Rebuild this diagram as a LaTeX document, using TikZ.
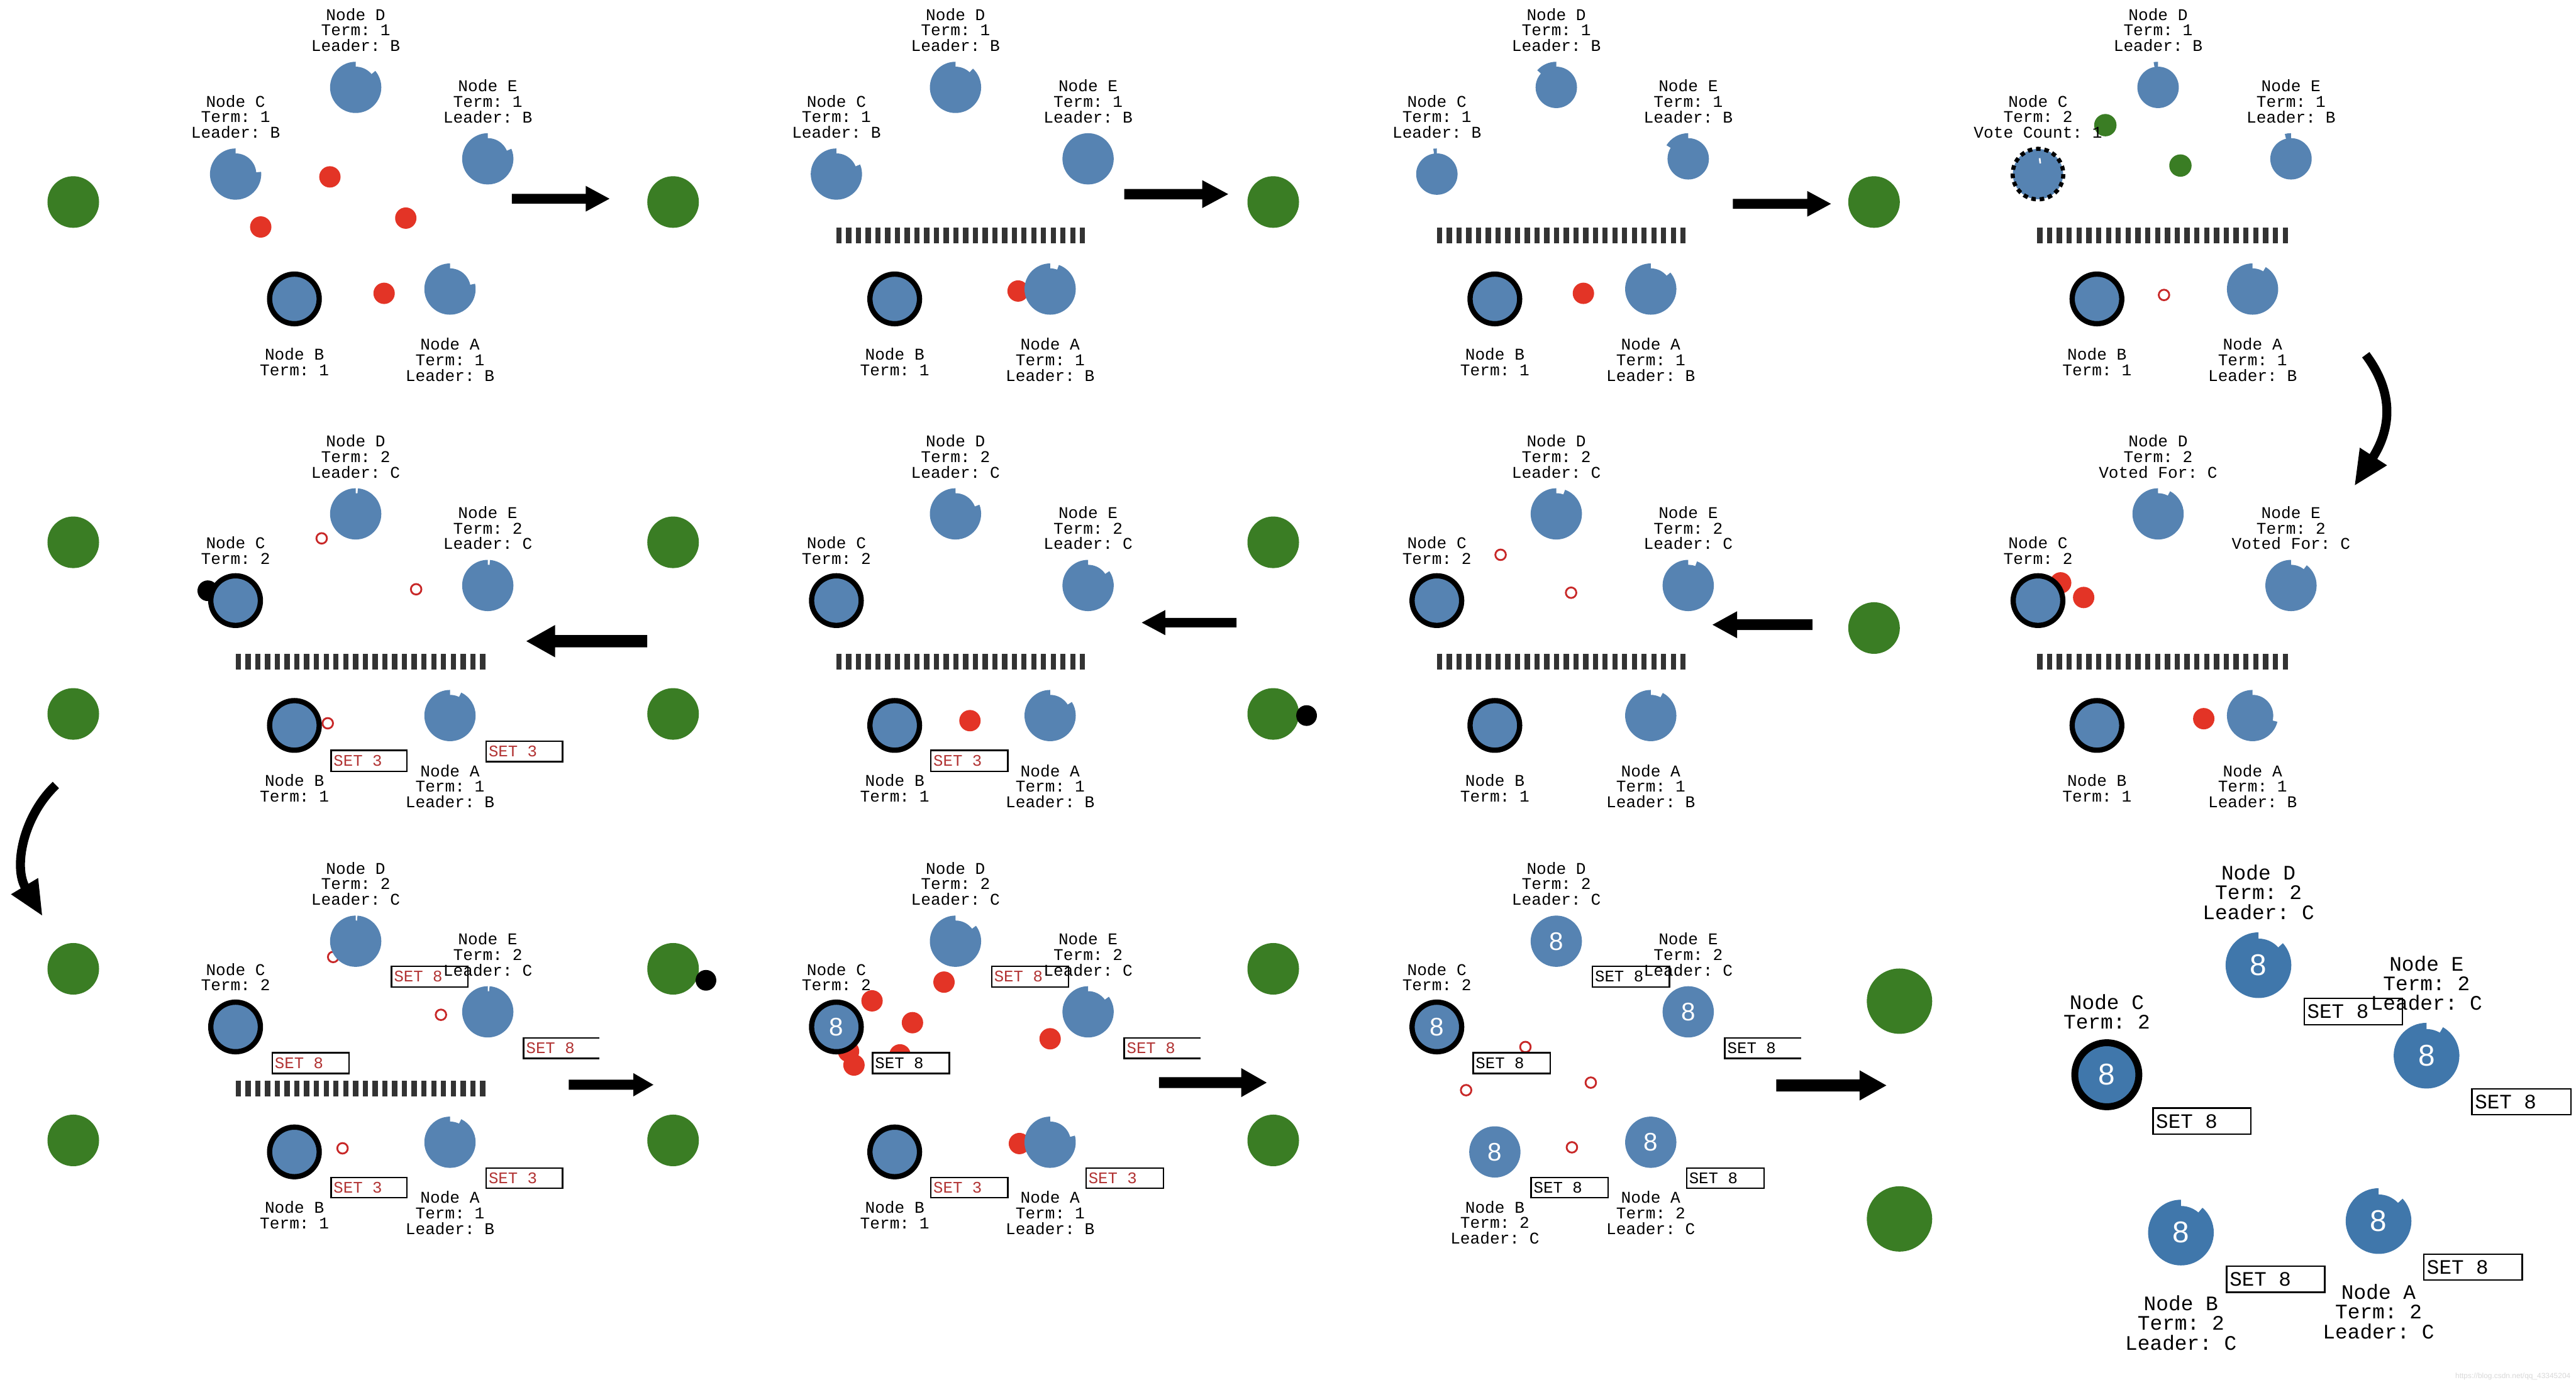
\documentclass[tikz,border=0pt]{standalone}
\usepackage{fontspec}
\setmainfont{Liberation Serif}
\setsansfont{Liberation Sans}
\setmonofont{Liberation Mono}
\newfontfamily\digitfont{Liberation Sans}
\usetikzlibrary{arrows.meta}
\definecolor{nb}{RGB}{86,131,178}
\definecolor{nbd}{RGB}{64,119,171}
\definecolor{gr}{RGB}{58,125,36}
\definecolor{rd}{RGB}{227,52,38}
\definecolor{rdo}{RGB}{200,40,40}
\definecolor{rdt}{RGB}{178,52,52}
\definecolor{barc}{RGB}{51,51,51}
\tikzset{
  lbl/.style={font=\fontsize{5.7}{5.4}\selectfont\ttfamily, align=center, inner sep=0pt},
  lblL/.style={font=\fontsize{7.15}{6.8}\selectfont\ttfamily, align=center, inner sep=0pt},
  settxt/.style={font=\fontsize{5.6}{6}\selectfont\ttfamily, inner sep=0pt, anchor=west},
  setL/.style={font=\fontsize{7.1}{8}\selectfont\ttfamily, inner sep=0pt, anchor=west},
  digit/.style={font=\fontsize{8.8}{9}\selectfont\digitfont, text=white, inner sep=0pt},
  digitL/.style={font=\fontsize{10.4}{11}\selectfont\digitfont, text=white, inner sep=0pt},
  boxline/.style={line width=0.018cm},
  bigcurve/.style={line width=0.11cm},
}
% timer node: name x y extent-of-outer-sector
\newcommand\tmr[4]{%
  \coordinate (#1) at (#2,#3);
  \fill[nb] (#1) circle[radius=12.6];
  \fill[nb] (#1) -- ++(0,-15.6) arc[start angle=-90, delta angle=-#4, radius=15.6] -- cycle;}
\newcommand\tmrL[4]{%
  \coordinate (#1) at (#2,#3);
  \fill[nbd] (#1) circle[radius=16.2];
  \fill[nbd] (#1) -- ++(0,-20) arc[start angle=-90, delta angle=-#4, radius=20] -- cycle;}
\newcommand\ldr[3]{%
  \coordinate (#1) at (#2,#3);
  \fill[nb] (#1) circle[radius=15.2];
  \draw[line width=0.064cm] (#1) circle[radius=15.1];}
\newcommand\ldrL[3]{%
  \coordinate (#1) at (#2,#3);
  \fill[nbd] (#1) circle[radius=19.5];
  \draw[line width=0.084cm] (#1) circle[radius=19.5];}
\newcommand\grn[2]{\fill[gr] (#1,#2) circle[radius=15.7];}
\newcommand\rdot[2]{\fill[rd] (#1,#2) circle[radius=6.5];}
\newcommand\rring[2]{\draw[rdo, line width=0.022cm] (#1,#2) circle[radius=3.2];}
\newcommand\bdot[2]{\fill[black] (#1,#2) circle[radius=6.3];}
\newcommand\nlab[4]{\node[lbl] (#1) at (#2,#3) {#4};}
\newcommand\nlabL[4]{\node[lblL] (#1) at (#2,#3) {#4};}
\newcommand\logbox[7]{%
  \draw[boxline, fill=white] (#2,#3) rectangle (#4,#5);
  \node[settxt, text=#6] (#1) at ({#2+1.2},{(#3+#5)/2}) {#7};}
\newcommand\logboxo[7]{%
  \fill[white] (#2,#3) rectangle (#4,#5);
  \draw[boxline] (#4,#3) -- (#2,#3) -- (#2,#5) -- (#4,#5);
  \node[settxt, text=#6] (#1) at ({#2+1.2},{(#3+#5)/2}) {#7};}
\newcommand\logboxL[5]{%
  \draw[boxline, fill=white] (#2,#3) rectangle (#4,#5);
  \node[setL] (#1) at ({#2+1.5},{(#3+#5)/2}) {SET 8};}
% barrier: x1 x2 ytop
\newcommand\barrier[3]{%
  \foreach \i in {0,...,25} {\fill[barc] ({#1+\i*(#2-#1-3.2)/25},#3) rectangle ++(3.2,9.5);}}
% block arrow: xtail xbase xtip y shafthalf headhalf
\newcommand\harrow[6]{%
  \fill[black] (#1,{#4-#5}) -- (#2,{#4-#5}) -- (#2,{#4-#6}) -- (#3,#4) -- (#2,{#4+#6}) -- (#2,{#4+#5}) -- (#1,{#4+#5}) -- cycle;}
\begin{document}
\begin{tikzpicture}[x=0.02cm,y=-0.02cm]
\useasboundingbox (0,0) rectangle (1568,843);
\fill[white] (0,0) rectangle (1568,843);

% ---------- green client circles ----------
\grn{44.6}{123}\grn{409.7}{123}\grn{775}{123}\grn{1140.7}{123}
\grn{44.6}{330.2}\grn{44.6}{434.7}\grn{409.7}{330.2}\grn{409.7}{434.7}
\grn{775}{330.2}\grn{775}{434.7}\grn{1140.7}{382.4}
\grn{44.6}{589.9}\grn{44.6}{694.4}\grn{409.7}{589.9}\grn{409.7}{694.4}
\grn{775}{589.9}\grn{775}{694.4}
\fill[gr] (1156.2,609.6) circle[radius=19.9];
\fill[gr] (1156.2,742.2) circle[radius=19.9];

% ---------- messages (behind nodes) ----------
% row 1
\rdot{200.8}{107.7}\rdot{158.7}{138.2}\rdot{247}{132.8}\rdot{233.8}{178.6}
\rdot{619.7}{177.2}
\rdot{963.8}{178.6}
\rring{1317.2}{179.6}
\fill[gr] (1281.5,76.2) circle[radius=6.8];
\fill[gr] (1327.2,100.8) circle[radius=6.8];
% row 2
\rring{195.8}{327.8}\rring{253.3}{358.8}\rring{199.5}{440.4}
\bdot{126.5}{359.7}
\rdot{590.4}{438.8}
\rring{913.4}{337.8}\rring{956.3}{360.9}
\bdot{795.3}{435.7}
\rdot{1254.3}{354.9}\rdot{1268.3}{363.8}\rdot{1341.4}{437.6}
% row 3
\rring{202.8}{582.7}\rring{268.4}{617.9}\rring{208.5}{699.2}
\bdot{429.7}{596.9}
\rdot{530.8}{609.4}\rdot{555.4}{622.7}\rdot{574.6}{598}\rdot{639.2}{632.5}
\rdot{519.8}{648.5}\rdot{516.5}{640.2}\rdot{547.8}{642.3}\rdot{620.5}{696.3}
\rring{928.5}{637.5}\rring{892.4}{663.8}\rring{968.3}{659.2}\rring{956.8}{698.6}

% ---------- barriers ----------
\barrier{509.1}{660.5}{138.6}\barrier{874.6}{1026.1}{138.6}\barrier{1240}{1392.6}{138.6}
\barrier{143.4}{295.4}{398.3}\barrier{509.1}{660.5}{398.3}\barrier{874.6}{1026.1}{398.3}\barrier{1240}{1392.6}{398.3}
\barrier{143.4}{295.4}{658.1}

% ---------- server nodes ----------
% row 1
\tmr{n11D}{216.5}{53.2}{310}\tmr{n11C}{143.4}{106}{275}\tmr{n11E}{296.9}{96.7}{293}
\ldr{n11B}{179.2}{182}\tmr{n11A}{273.9}{176}{282}
\tmr{n12D}{581.6}{53.2}{317}\tmr{n12C}{509.1}{106}{292}\tmr{n12E}{662.3}{96.7}{360}
\ldr{n12B}{544.6}{182}\tmr{n12A}{639.2}{176}{340}
\tmr{n13D}{947.3}{53.2}{48}\tmr{n13C}{874.6}{106}{8}\tmr{n13E}{1027.6}{96.7}{58}
\ldr{n13B}{909.9}{182}\tmr{n13A}{1004.8}{176}{310}
\tmr{n14D}{1313.6}{53.2}{10}\tmr{n14E}{1394.5}{96.7}{14}
\ldr{n14B}{1276.4}{182}\tmr{n14A}{1371.1}{176}{329}
\coordinate (n14C) at (1240.5,106);
\fill[nb] (n14C) circle[radius=15.3];
\draw[line width=0.05cm, dash pattern=on 0.055cm off 0.047cm] (n14C) circle[radius=15.4];
\draw[white, line width=0.02cm] (1241.5,96.3) -- (1241.9,99.5);
% row 2
\tmr{n21D}{216.5}{312.9}{355}\ldr{n21C}{143.4}{365.7}\tmr{n21E}{296.9}{356.5}{355}
\ldr{n21B}{179.2}{441.7}\tmr{n21A}{273.9}{435.7}{334}
\tmr{n22D}{581.6}{312.9}{291}\ldr{n22C}{509.1}{365.7}\tmr{n22E}{662.3}{356.5}{304}
\ldr{n22B}{544.6}{441.7}\tmr{n22A}{639.2}{435.7}{302}
\tmr{n23D}{947.3}{312.9}{340}\ldr{n23C}{874.6}{365.7}\tmr{n23E}{1027.6}{356.5}{340}
\ldr{n23B}{909.9}{441.7}\tmr{n23A}{1004.8}{435.7}{332}
\tmr{n24D}{1313.6}{312.9}{332}\ldr{n24C}{1240.5}{365.7}\tmr{n24E}{1394.5}{356.5}{322}
\ldr{n24B}{1276.4}{441.7}\tmr{n24A}{1371.1}{435.7}{256}
% row 3
\tmr{n31D}{216.5}{573.1}{356}\ldr{n31C}{143.4}{625.3}\tmr{n31E}{296.9}{616.1}{356}
\ldr{n31B}{179.2}{701.4}\tmr{n31A}{273.9}{695.5}{334}
\tmr{n32D}{581.6}{573.1}{307}\ldr{n32C}{509.1}{625.3}\tmr{n32E}{662.3}{616.1}{306}
\ldr{n32B}{544.6}{701.4}\tmr{n32A}{639.2}{695.5}{285}
\node[digit] (d32C) at (n32C) {8};
\tmr{n33D}{947.3}{573.1}{360}\ldr{n33C}{874.6}{625.3}\tmr{n33E}{1027.6}{616.1}{360}
\tmr{n33B}{909.9}{701.4}{360}\tmr{n33A}{1004.8}{695.5}{360}
\node[digit] (d33D) at (n33D) {8};
\node[digit] (d33C) at (n33C) {8};
\node[digit] (d33E) at (n33E) {8};
\node[digit] (d33B) at (n33B) {8};
\node[digit] (d33A) at (n33A) {8};
\tmrL{n34D}{1374.7}{587.7}{312}\ldrL{n34C}{1282.4}{654.4}\tmrL{n34E}{1477}{642.8}{330}
\tmrL{n34B}{1327.5}{750.5}{319}\tmrL{n34A}{1447.8}{743.5}{313}
\node[digitL] (d34D) at (n34D) {8};
\node[digitL] (d34C) at (n34C) {8};
\node[digitL] (d34E) at (n34E) {8};
\node[digitL] (d34B) at (n34B) {8};
\node[digitL] (d34A) at (n34A) {8};

% ---------- log boxes ----------
\logbox{s21b}{201.5}{456.9}{247.8}{469.6}{rdt}{SET 3}
\logbox{s21a}{295.9}{451.2}{342.4}{463.8}{rdt}{SET 3}
\logbox{s22b}{566.6}{456.9}{613.4}{469.6}{rdt}{SET 3}
\logbox{s31d}{238.3}{588.4}{284.9}{600.9}{rdt}{SET 8}
\logbox{s31c}{165.7}{641}{212.5}{653.7}{rdt}{SET 8}
\logboxo{s31e}{318.7}{631.9}{365}{644.5}{rdt}{SET 8}
\logbox{s31b}{201.5}{717}{247.8}{729.3}{rdt}{SET 3}
\logbox{s31a}{295.9}{711.2}{342.4}{723.6}{rdt}{SET 3}
\logbox{s32c}{531.1}{641}{577.9}{653.7}{black}{SET 8}
\logbox{s32d}{603.6}{588.4}{650.4}{600.9}{rdt}{SET 8}
\logboxo{s32e}{684.3}{631.9}{730.6}{644.5}{rdt}{SET 8}
\logbox{s32b}{566.6}{717}{613.4}{729.3}{rdt}{SET 3}
\logbox{s32a}{661}{711.2}{708.1}{723.6}{rdt}{SET 3}
\logbox{s33c}{896.7}{641}{943.5}{653.7}{black}{SET 8}
\logbox{s33d}{969.3}{588.4}{1016.1}{600.9}{black}{SET 8}
\logboxo{s33e}{1049.9}{631.9}{1096.2}{644.5}{black}{SET 8}
\logbox{s33b}{932}{717}{978.8}{729.3}{black}{SET 8}
\logbox{s33a}{1026.6}{711.2}{1073.7}{723.6}{black}{SET 8}
\logboxL{s34d}{1402.5}{607.8}{1462.3}{623.9}
\logboxL{s34c}{1310.5}{674.7}{1370}{690.6}
\logboxL{s34e}{1504.6}{663.1}{1564.8}{678.8}
\logboxL{s34b}{1355.3}{770.9}{1415}{786.8}
\logboxL{s34a}{1475.4}{763.6}{1535.3}{779.5}

% ---------- labels ----------
% row 1
\nlab{l11D}{216.5}{18.2}{Node D\\Term: 1\\Leader: B}
\nlab{l11C}{143.4}{71}{Node C\\Term: 1\\Leader: B}
\nlab{l11E}{296.9}{61.7}{Node E\\Term: 1\\Leader: B}
\nlab{l11B}{179.2}{220.3}{Node B\\Term: 1}
\nlab{l11A}{273.9}{219}{Node A\\Term: 1\\Leader: B}
\nlab{l12D}{581.6}{18.2}{Node D\\Term: 1\\Leader: B}
\nlab{l12C}{509.1}{71}{Node C\\Term: 1\\Leader: B}
\nlab{l12E}{662.3}{61.7}{Node E\\Term: 1\\Leader: B}
\nlab{l12B}{544.6}{220.3}{Node B\\Term: 1}
\nlab{l12A}{639.2}{219}{Node A\\Term: 1\\Leader: B}
\nlab{l13D}{947.3}{18.2}{Node D\\Term: 1\\Leader: B}
\nlab{l13C}{874.6}{71}{Node C\\Term: 1\\Leader: B}
\nlab{l13E}{1027.6}{61.7}{Node E\\Term: 1\\Leader: B}
\nlab{l13B}{909.9}{220.3}{Node B\\Term: 1}
\nlab{l13A}{1004.8}{219}{Node A\\Term: 1\\Leader: B}
\nlab{l14D}{1313.6}{18.2}{Node D\\Term: 1\\Leader: B}
\nlab{l14C}{1240.5}{71}{Node C\\Term: 2\\Vote Count: 1}
\nlab{l14E}{1394.5}{61.7}{Node E\\Term: 1\\Leader: B}
\nlab{l14B}{1276.4}{220.3}{Node B\\Term: 1}
\nlab{l14A}{1371.1}{219}{Node A\\Term: 1\\Leader: B}
% row 2
\nlab{l21D}{216.5}{277.9}{Node D\\Term: 2\\Leader: C}
\nlab{l21C}{143.4}{335.3}{Node C\\Term: 2}
\nlab{l21E}{296.9}{321.5}{Node E\\Term: 2\\Leader: C}
\nlab{l21B}{179.2}{480}{Node B\\Term: 1}
\nlab{l21A}{273.9}{478.7}{Node A\\Term: 1\\Leader: B}
\nlab{l22D}{581.6}{277.9}{Node D\\Term: 2\\Leader: C}
\nlab{l22C}{509.1}{335.3}{Node C\\Term: 2}
\nlab{l22E}{662.3}{321.5}{Node E\\Term: 2\\Leader: C}
\nlab{l22B}{544.6}{480}{Node B\\Term: 1}
\nlab{l22A}{639.2}{478.7}{Node A\\Term: 1\\Leader: B}
\nlab{l23D}{947.3}{277.9}{Node D\\Term: 2\\Leader: C}
\nlab{l23C}{874.6}{335.3}{Node C\\Term: 2}
\nlab{l23E}{1027.6}{321.5}{Node E\\Term: 2\\Leader: C}
\nlab{l23B}{909.9}{480}{Node B\\Term: 1}
\nlab{l23A}{1004.8}{478.7}{Node A\\Term: 1\\Leader: B}
\nlab{l24D}{1313.6}{277.9}{Node D\\Term: 2\\Voted For: C}
\nlab{l24C}{1240.5}{335.3}{Node C\\Term: 2}
\nlab{l24E}{1394.5}{321.5}{Node E\\Term: 2\\Voted For: C}
\nlab{l24B}{1276.4}{480}{Node B\\Term: 1}
\nlab{l24A}{1371.1}{478.7}{Node A\\Term: 1\\Leader: B}
% row 3
\nlab{l31D}{216.5}{538.1}{Node D\\Term: 2\\Leader: C}
\nlab{l31C}{143.4}{594.9}{Node C\\Term: 2}
\nlab{l31E}{296.9}{581.1}{Node E\\Term: 2\\Leader: C}
\nlab{l31B}{179.2}{739.7}{Node B\\Term: 1}
\nlab{l31A}{273.9}{738.5}{Node A\\Term: 1\\Leader: B}
\nlab{l32D}{581.6}{538.1}{Node D\\Term: 2\\Leader: C}
\nlab{l32C}{509.1}{594.9}{Node C\\Term: 2}
\nlab{l32E}{662.3}{581.1}{Node E\\Term: 2\\Leader: C}
\nlab{l32B}{544.6}{739.7}{Node B\\Term: 1}
\nlab{l32A}{639.2}{738.5}{Node A\\Term: 1\\Leader: B}
\nlab{l33D}{947.3}{538.1}{Node D\\Term: 2\\Leader: C}
\nlab{l33C}{874.6}{594.9}{Node C\\Term: 2}
\nlab{l33E}{1027.6}{581.1}{Node E\\Term: 2\\Leader: C}
\nlab{l33B}{909.9}{744.4}{Node B\\Term: 2\\Leader: C}
\nlab{l33A}{1004.8}{738.5}{Node A\\Term: 2\\Leader: C}
\nlabL{l34D}{1374.7}{543.3}{Node D\\Term: 2\\Leader: C}
\nlabL{l34C}{1282.4}{616.1}{Node C\\Term: 2}
\nlabL{l34E}{1477}{598.7}{Node E\\Term: 2\\Leader: C}
\nlabL{l34B}{1327.5}{805.5}{Node B\\Term: 2\\Leader: C}
\nlabL{l34A}{1447.8}{798.6}{Node A\\Term: 2\\Leader: C}

% ---------- step arrows ----------
\harrow{311.6}{356.5}{371}{121}{3}{7.85}
\harrow{684.3}{731.8}{747.6}{118.2}{3.15}{8.5}
\harrow{1054.8}{1100}{1114.5}{124.1}{3}{7.85}
\harrow{394}{337.9}{320.4}{390.4}{3.7}{9.85}
\harrow{752.6}{709.3}{695}{379.1}{2.85}{7.65}
\harrow{1103.2}{1057.4}{1042.4}{380.4}{3.25}{8.25}
\harrow{346.2}{385.5}{397.7}{660.5}{3.05}{7.1}
\harrow{705.5}{755.5}{771}{659.2}{3.3}{8.85}
\harrow{1081.2}{1131.9}{1148.2}{660.9}{3.7}{9.2}
\coordinate (cr1) at (1440,216);
\coordinate (cr2) at (1433,296);
\draw[bigcurve, -{Triangle[length=0.43cm, width=0.36cm]}] (cr1) .. controls (1458,240) and (1455,262) .. (cr2);
\coordinate (cl1) at (34,478);
\coordinate (cl2) at (26,558);
\draw[bigcurve, -{Triangle[length=0.43cm, width=0.35cm]}] (cl1) .. controls (14,497) and (8,528) .. (cl2);

\node[font=\fontsize{2.6}{3}\selectfont\sffamily, text=black!15, anchor=east, inner sep=0pt] (wm) at (1565,838) {https://blog.csdn.net/qq\_43345204};
\end{tikzpicture}
\end{document}
